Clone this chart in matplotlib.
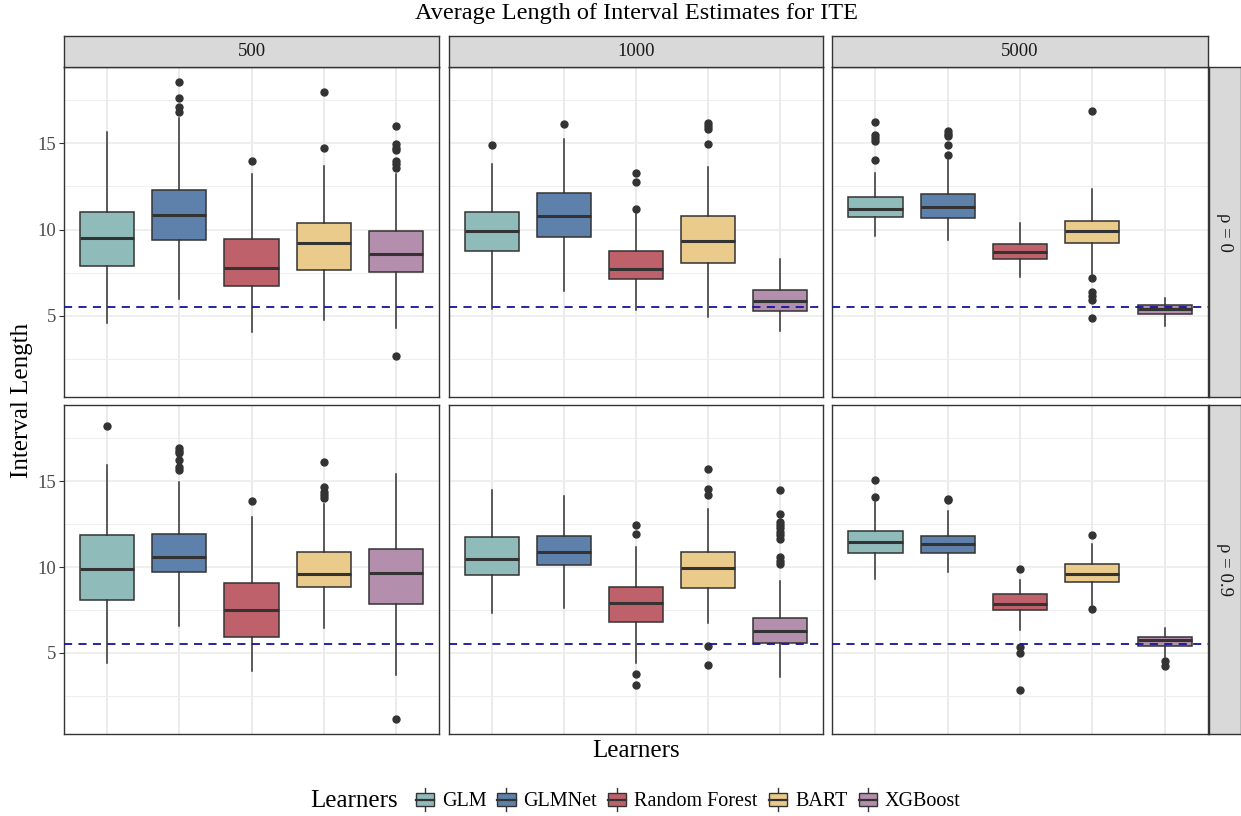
import numpy as np
import matplotlib.pyplot as plt
from matplotlib.patches import Rectangle
from matplotlib.lines import Line2D
from matplotlib.legend_handler import HandlerBase

plt.rcParams['font.family'] = ['Liberation Serif', 'DejaVu Serif']

# data
learners = ['GLM', 'GLMNet', 'Random Forest', 'BART', 'XGBoost']
colors = ['#8FBCBB', '#5E81AC', '#BF616A', '#EBCB8B', '#B48EAD']
sample_sizes = ['500', '1000', '5000']
rho_labels = ['ρ = 0', 'ρ = 0.9']
ref_line = 5.52

# rho = 0, one row per sample size, one value per learner
lo_rho0 = [[4.55, 5.95, 4.07, 4.75, 4.26],
           [5.39, 6.45, 5.33, 4.90, 4.09],
           [9.61, 9.40, 7.27, 7.42, 4.38]]
q1_rho0 = [[7.91, 9.40, 6.70, 7.67, 7.54],
           [8.74, 9.57, 7.13, 8.08, 5.25],
           [10.70, 10.68, 8.27, 9.22, 5.12]]
med_rho0 = [[9.52, 10.87, 7.77, 9.19, 8.58],
            [9.90, 10.76, 7.71, 9.36, 5.87],
            [11.20, 11.28, 8.72, 9.94, 5.37]]
q3_rho0 = [[11.00, 12.31, 9.42, 10.35, 9.90],
           [11.01, 12.11, 8.74, 10.81, 6.51],
           [11.88, 12.07, 9.17, 10.52, 5.62]]
hi_rho0 = [[15.66, 16.49, 13.20, 13.66, 13.24],
           [13.82, 15.27, 10.97, 13.62, 8.27],
           [13.27, 14.01, 10.37, 12.37, 6.01]]
fliers_rho0 = [
    [[], [18.56, 17.63, 17.11, 16.83], [13.95], [17.98, 14.71],
     [16.03, 14.94, 14.75, 14.63, 13.97, 13.78, 13.59, 2.67]],
    [[14.92], [16.14], [13.28, 12.75, 11.20], [16.18, 15.99, 15.81, 14.96], []],
    [[16.24, 15.50, 15.30, 15.14, 14.03], [15.70, 15.55, 15.41, 14.88, 14.32], [],
     [16.86, 7.21, 6.40, 6.16, 5.91, 4.88], []],
]

# rho = 0.9
lo_rho9 = [[4.40, 6.59, 3.97, 6.43, 3.70],
           [7.31, 7.64, 4.40, 6.73, 3.62],
           [9.30, 9.73, 6.34, 7.79, 4.79]]
q1_rho9 = [[8.06, 9.71, 5.95, 8.84, 7.85],
           [9.53, 10.10, 6.82, 8.80, 5.60],
           [10.81, 10.81, 7.48, 9.15, 5.43]]
med_rho9 = [[9.88, 10.60, 7.50, 9.61, 9.67],
            [10.48, 10.85, 7.91, 9.94, 6.30],
            [11.44, 11.32, 7.85, 9.59, 5.76]]
q3_rho9 = [[11.86, 11.92, 9.09, 10.85, 11.07],
           [11.76, 11.82, 8.82, 10.89, 7.05],
           [12.09, 11.82, 8.45, 10.16, 5.93]]
hi_rho9 = [[15.93, 14.92, 12.93, 13.66, 15.39],
           [14.48, 14.13, 11.16, 13.35, 9.19],
           [13.80, 13.26, 9.24, 11.34, 6.47]]
fliers_rho9 = [
    [[18.20], [16.90, 16.74, 16.61, 16.22, 15.83, 15.64], [13.84],
     [16.12, 14.63, 14.38, 14.19, 13.99], [1.15]],
    [[], [], [12.42, 11.92, 3.76, 3.16], [15.72, 14.52, 14.19, 5.43, 4.30],
     [14.48, 13.08, 12.63, 12.44, 12.25, 12.05, 11.86, 11.61, 10.56, 10.37, 10.17]],
    [[15.06, 14.05], [13.95, 13.88], [9.87, 5.37, 4.98, 2.83], [11.86, 7.56], [4.50, 4.21]],
]

rows = [
    (lo_rho0, q1_rho0, med_rho0, q3_rho0, hi_rho0, fliers_rho0),
    (lo_rho9, q1_rho9, med_rho9, q3_rho9, hi_rho9, fliers_rho9),
]

# shared y range with ggplot-style 5% expansion
all_vals = []
for r in rows:
    for arr in r[:5]:
        all_vals += [v for row in arr for v in row]
    all_vals += [v for row in r[5] for fl in row for v in fl]
ymin, ymax = min(all_vals), max(all_vals)
pad = 0.05 * (ymax - ymin)

W, H = 1241, 816
fig = plt.figure(figsize=(W / 100, H / 100), dpi=100)


def rect(x0, y0, x1, y1):
    return [x0 / W, 1 - y1 / H, (x1 - x0) / W, (y1 - y0) / H]


col_x = [(64, 439), (449, 823), (832, 1208)]
row_y = [(67, 397), (405, 734)]
dark = '#333333'

for ri, (lo, q1, med, q3, hi, fl) in enumerate(rows):
    for ci in range(3):
        x0, x1 = col_x[ci]
        y0, y1 = row_y[ri]
        ax = fig.add_axes(rect(x0, y0, x1, y1))
        ax.set_xlim(0.4, 5.6)
        ax.set_ylim(ymin - pad, ymax + pad)
        ax.set_yticks([5, 10, 15])
        ax.set_yticks([2.5, 7.5, 12.5, 17.5], minor=True)
        ax.set_xticks(range(1, 6))
        ax.grid(True, which='major', color='#EBEBEB', lw=1.1, zorder=0)
        ax.grid(True, which='minor', axis='y', color='#EBEBEB', lw=0.6, zorder=0)
        ax.set_axisbelow(True)
        ax.tick_params(axis='x', length=0, labelbottom=False)
        ax.tick_params(axis='y', which='minor', length=0)
        if ci == 0:
            ax.tick_params(axis='y', which='major', length=3.5, width=0.8,
                           color=dark, labelsize=13.5, labelcolor='#4D4D4D', pad=2)
        else:
            ax.tick_params(axis='y', which='major', length=0, labelleft=False)
        for s in ax.spines.values():
            s.set_color(dark)
            s.set_linewidth(1.0)

        stats = []
        for k in range(5):
            stats.append(dict(med=med[ci][k], q1=q1[ci][k], q3=q3[ci][k],
                              whislo=lo[ci][k], whishi=hi[ci][k], fliers=fl[ci][k]))
        bp = ax.bxp(stats, positions=range(1, 6), widths=0.75, patch_artist=True,
                    showcaps=False,
                    boxprops=dict(edgecolor=dark, linewidth=1.1),
                    medianprops=dict(color=dark, linewidth=2.2, solid_capstyle='butt'),
                    whiskerprops=dict(color=dark, linewidth=1.1),
                    flierprops=dict(marker='o', markerfacecolor=dark,
                                    markeredgecolor=dark, markersize=5))
        for patch, c in zip(bp['boxes'], colors):
            patch.set_facecolor(c)
        ax.axhline(ref_line, color='#14149C', lw=1.3, ls=(0, (4.5, 3.5)), zorder=5)

        if ri == 0:
            sx = fig.add_axes(rect(x0, 36, x1, 67))
            sx.set_facecolor('#D9D9D9')
            sx.set_xticks([])
            sx.set_yticks([])
            for s in sx.spines.values():
                s.set_color(dark)
                s.set_linewidth(1.0)
            sx.text(0.5, 0.5, sample_sizes[ci], ha='center', va='center',
                    fontsize=13.5, color='#1A1A1A', transform=sx.transAxes)

    y0, y1 = row_y[ri]
    sy = fig.add_axes(rect(1209, y0, 1241, y1))
    sy.set_facecolor('#D9D9D9')
    sy.set_xticks([])
    sy.set_yticks([])
    for s in sy.spines.values():
        s.set_color(dark)
        s.set_linewidth(1.0)
    sy.text(0.5, 0.5, rho_labels[ri], ha='center', va='center', rotation=-90,
            fontsize=13.5, color='#1A1A1A', transform=sy.transAxes)

fig.text(636 / W, 1 - 14 / H, 'Average Length of Interval Estimates for ITE',
         ha='center', va='center', fontsize=17.5, color='black')
fig.text(22 / W, 1 - 400 / H, 'Interval Length', ha='center', va='center',
         rotation=90, fontsize=18)
fig.text(636 / W, 1 - 751 / H, 'Learners', ha='center', va='center', fontsize=18)


class BoxKey(HandlerBase):
    def create_artists(self, legend, orig, xd, yd, width, height, fontsize, trans):
        x = -xd
        y = -yd
        r = Rectangle((x, y + height * 0.12), width, height * 0.76,
                      facecolor=orig.get_facecolor(), edgecolor=dark, lw=1.0,
                      transform=trans)
        v = Line2D([x + width / 2] * 2, [y - height * 0.12, y + height * 1.12],
                   color=dark, lw=1.0, transform=trans)
        m = Line2D([x, x + width], [y + height / 2] * 2, color=dark, lw=1.6,
                   transform=trans)
        return [v, r, m]


handles = [Rectangle((0, 0), 1, 1, facecolor=c, edgecolor=dark) for c in colors]
leg = fig.legend(handles, learners, handler_map={Rectangle: BoxKey()},
                 loc='center', bbox_to_anchor=(688 / W, 1 - 801 / H), ncol=5,
                 frameon=False, fontsize=14.5, handlelength=0.9, handleheight=1.0,
                 handletextpad=0.4, columnspacing=0.55)
fig.text(398 / W, 1 - 801 / H, 'Learners', ha='right', va='center', fontsize=18)

fig.savefig('out.png', dpi=100)
